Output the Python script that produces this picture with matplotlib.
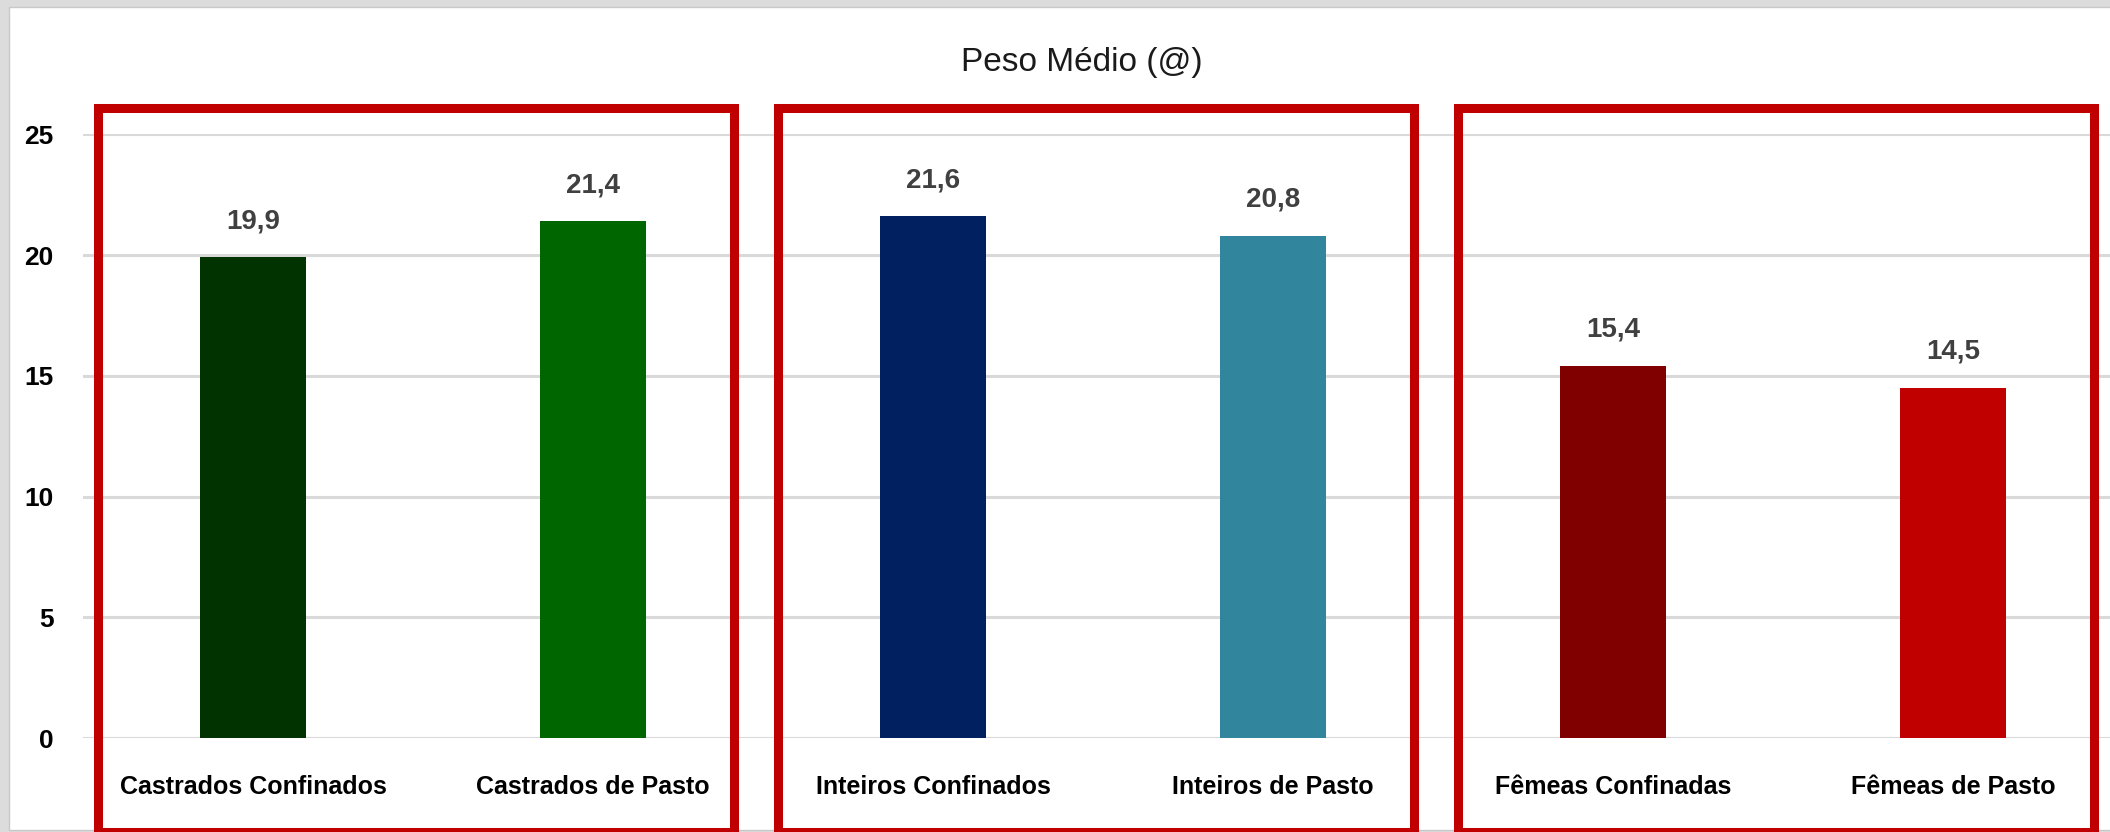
import matplotlib
matplotlib.use("Agg")
import matplotlib.pyplot as plt
from matplotlib.patches import Rectangle

plt.rcParams['font.family'] = ['Liberation Sans', 'DejaVu Sans']

categorias = ["Castrados Confinados", "Castrados de Pasto",
              "Inteiros Confinados", "Inteiros de Pasto",
              "Fêmeas Confinadas", "Fêmeas de Pasto"]
peso = [19.9, 21.4, 21.6, 20.8, 15.4, 14.5]
cores = ["#003300", "#006600", "#002060", "#31859C", "#800000", "#C00000"]
grupos = [(0, 1), (2, 3), (4, 5)]   # cada caixa vermelha junta dois tipos
yticks = [0, 5, 10, 15, 20, 25]

W, H = 2110, 832
fig = plt.figure(figsize=(W / 100, H / 100), dpi=100, facecolor="#dcdcdc")

# painel branco do grafico (atras dos eixos)
painel = Rectangle((9 / W, 2 / H), 1, (830 - 7) / H, transform=fig.transFigure,
                   facecolor="white", edgecolor="#c8c8c8", lw=1, zorder=-5)
fig.add_artist(painel)

ax = fig.add_axes([83 / W, (H - 738) / H, 2040 / W, 603.7 / H])
ax.set_facecolor("none")

x = list(range(len(categorias)))
ax.bar(x, peso, width=0.312, color=cores, zorder=3)

# rotulos de valor em cima das barras
for i, v in enumerate(peso):
    ax.text(i, v + 1.5, f"{v:.1f}".replace(".", ","), ha="center", va="center",
            fontsize=20, fontweight="bold", color="#404040")

# nomes das categorias embaixo
for i, c in enumerate(categorias):
    ax.text(i, -2.03, c, ha="center", va="center", fontsize=18,
            fontweight="bold", color="black", clip_on=False)

ax.set_xlim(-0.5, 5.5)
ax.set_ylim(0, 25)
ax.set_xticks([])
ax.set_yticks(yticks)
ax.set_yticklabels([str(t) for t in yticks], fontsize=19, fontweight="bold")
ax.tick_params(axis="y", length=0, pad=21)
ax.grid(axis="y", color="#d9d9d9", lw=2.2, zorder=0)
for s in ax.spines.values():
    s.set_visible(False)

# caixas vermelhas em volta de cada grupo
for a, b in grupos:
    ax.add_patch(Rectangle((a - 0.455, -3.89), (b + 0.415) - (a - 0.455), 26.07 + 3.89,
                           fill=False, edgecolor="#C00000", lw=6.5, clip_on=False, zorder=4))

fig.text(1082 / W, 1 - 63 / H, "Peso Médio (@)", ha="center", va="center",
         fontsize=24, color="#1a1a1a")

fig.savefig("out.png", dpi=100, facecolor=fig.get_facecolor())
